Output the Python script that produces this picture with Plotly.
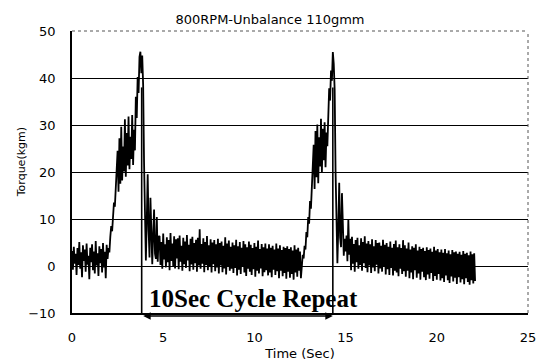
import numpy as np
import plotly.graph_objects as go

dt = 0.05  # sampling interval (s)

pre_noise = [3.2, -0.8, 4.1, 0.5, 2.6, -1.9, 3.8, 0.2, 5.1, -0.6, 2.9, -2.4, 4.4, 1.1, 3.5, -1.2,
             4.8, 0.3, 2.2, -2.8, 3.9, 0.8, 4.6, -0.9, 3.1, -1.6, 5.3, 0.1, 2.7, -2.1, 4.2, 0.6,
             3.6, -1.4, 4.9, -0.3, 3.0, -2.6, 4.5]
rise1 = [1.5, 3.8, 2.9, 6.2, 8.5, 7.4, 11.8, 13.5, 12.6, 17.2, 19.5]
teeth1 = [24.5, 15.8, 27.2, 17.5, 29.6, 18.2, 25.4, 20.1, 31.2, 19.0, 28.3, 21.4, 31.8, 20.6,
          27.5, 22.8, 32.1, 21.5, 29.0, 24.6]
peak1 = [36.0, 31.5, 40.2, 36.8, 44.5, 45.6, 41.0, 44.8, 38.5]
drop1 = [22.0, 6.5, 1.2, 9.8, 19.5, 7.6, 1.8, 14.5, 5.2, 0.4, 6.8, 12.0, 2.6, 1.5, 10.4, 0.9, 6.2]
mid_noise = [6.4, 0.2, 5.1, -0.6, 6.9, 1.4, 4.6, -0.3, 6.1, 0.8, 5.5, -0.9, 7.0, 1.1, 4.8, 0.0, 6.3, -0.5, 5.7, 1.6,
             5.9, -0.7, 6.5, 0.9, 4.3, -1.0, 6.0, 0.4, 5.2, -0.4, 6.6, 1.2, 4.5, -1.1, 5.8, 0.3, 6.2, -0.8, 4.9, 0.6,
             5.6, -1.2, 6.0, 0.1, 7.8, -0.6, 4.7, 0.5, 5.9, -1.3, 5.1, 0.2, 6.4, -0.9, 4.4, -0.2, 5.7, -1.4, 5.0, 0.4,
             5.5, -1.1, 4.6, -0.3, 5.8, -1.6, 4.9, 0.1, 5.2, -1.3, 4.3, -0.5, 6.1, -1.8, 4.8, -0.2, 5.4, -1.0, 4.1, -0.6,
             5.0, -1.5, 4.4, -0.4, 5.6, -2.0, 4.2, -0.8, 5.1, -1.7, 3.9, -0.1, 5.3, -1.4, 4.6, -2.1, 4.0, -0.6, 5.2, -1.2,
             4.5, -1.9, 3.8, -0.7, 4.9, -2.3, 4.1, -1.0, 5.4, -1.6, 3.6, -0.5, 4.7, -2.2, 4.0, -1.3, 4.8, -0.9, 3.7, -2.0,
             4.6, -1.4, 3.9, -2.4, 4.3, -0.8, 3.5, -1.9, 4.8, -1.1, 3.7, -2.6, 4.4, -1.0, 3.4, -2.2, 4.1, -1.5, 3.8, -2.7,
             4.2, -1.2, 3.6, -2.5, 4.0, -1.7, 3.3, -2.9, 4.4, -1.4, 3.5, -2.3, 3.9, -1.0, 3.1, -2.6]
rise2 = [0.8, 2.4, 1.6, 4.3, 3.5, 7.2, 6.1, 10.4, 9.0, 13.8, 12.2, 17.5, 19.0]
teeth2 = [25.8, 16.4, 28.7, 18.9, 30.1, 17.6, 27.4, 21.2, 31.3, 19.8, 29.2, 22.5, 30.6, 21.0, 28.4, 25.5]
peak2 = [33.0, 37.8, 35.2, 41.6, 39.4, 45.5, 43.0, 37.5]
drop2 = [20.0, 4.5, 0.6, 8.2, 17.7, 6.1, 4.0, 15.5, 7.0, 2.2, 5.8, 3.1, 6.5, 1.0, 9.8, 2.4]
end_noise = [5.8, -0.9, 6.2, 0.5, 4.7, -1.2, 5.5, 0.8, 6.0, -0.6, 4.4, 0.2, 5.9, -1.0, 5.1, 0.6, 6.3, -0.4, 4.8, -1.3,
             5.3, 0.1, 4.6, -1.5, 5.7, -0.3, 4.2, -1.1, 5.5, 0.3, 4.9, -1.6, 5.0, -0.5, 4.3, -1.2, 5.6, -0.2, 4.5, -1.8,
             4.9, -0.7, 4.1, -1.9, 5.2, -0.4, 3.9, -2.0, 4.7, -1.0, 5.4, -1.4, 4.0, -2.2, 4.6, -0.6, 3.8, -1.7, 5.5, -1.1,
             4.4, -2.3, 3.7, -1.0, 5.0, -2.6, 3.5, -1.4, 4.2, -2.8, 3.9, -0.9, 4.6, -2.5, 3.3, -1.6, 4.1, -2.9, 3.6, -1.2,
             3.9, -2.4, 3.2, -3.0, 4.0, -1.8, 3.4, -2.7, 3.7, -1.5, 3.0, -3.2, 4.1, -2.1, 3.3, -2.9, 3.6, -1.7, 2.9, -3.1,
             3.5, -2.6, 2.8, -3.4, 3.6, -2.0, 2.7, -3.0, 3.3, -3.6, 2.5, -2.2, 3.4, -3.3, 2.9, -2.5, 3.1, -3.8, 2.6, -2.4,
             3.0, -3.5, 2.4, -2.8, 3.2, -3.9, 2.6, -2.6, 2.8, -3.4, 2.3, -4.0, 3.1, -3.0, 2.5, -3.7, 2.7, -3.2]

cycle_marks = [3.82, 14.3]   # s, cycle markers
x_ticks = [0, 5, 10, 15, 20, 25]
y_ticks = [-10, 0, 10, 20, 30, 40, 50]

torque = np.array(pre_noise + rise1 + teeth1 + peak1 + drop1 + mid_noise
                  + rise2 + teeth2 + peak2 + drop2 + end_noise)
time = np.arange(len(torque)) * dt

fig = go.Figure()
fig.add_trace(go.Scatter(x=time, y=torque, mode="lines",
                         line=dict(color="black", width=1.8), showlegend=False))

shapes = []
for xm in cycle_marks:
    shapes.append(dict(type="line", xref="x", yref="y", x0=xm, x1=xm, y0=-10, y1=38,
                       line=dict(color="black", width=1.6)))
shapes.append(dict(type="line", xref="paper", yref="paper", x0=0, x1=1, y0=1, y1=1,
                   line=dict(color="#555", width=1, dash="dot")))
shapes.append(dict(type="line", xref="paper", yref="paper", x0=1, x1=1, y0=0, y1=1,
                   line=dict(color="#555", width=1, dash="dot")))

annotations = [
    dict(x=9.95, y=-6.9, xref="x", yref="y", text="10Sec Cycle Repeat", showarrow=False,
         font=dict(family="Liberation Serif", size=25, color="black", weight="bold")),
    dict(x=cycle_marks[1], y=-0.011, xref="x", yref="paper", ax=cycle_marks[0], ay=0,
         axref="x", ayref="pixel", text="", showarrow=True, arrowhead=2, arrowside="end+start",
         arrowsize=1, arrowwidth=1.5, arrowcolor="black"),
    dict(x=-0.11, y=0.534, xref="paper", yref="paper", text="Torque(kgm)", showarrow=False,
         textangle=-90, xanchor="center", yanchor="middle",
         font=dict(family="DejaVu Sans", size=11, color="black")),
]

fig.update_layout(
    width=540, height=361,
    margin=dict(l=72, r=12, t=31, b=48),
    paper_bgcolor="white", plot_bgcolor="white",
    font=dict(family="DejaVu Sans", color="black", size=13),
    title=dict(text="800RPM-Unbalance 110gmm", x=0.5, xref="container", xanchor="center",
               y=1 - 19 / 361, yref="container", yanchor="middle",
               font=dict(family="DejaVu Sans", size=13, color="black")),
    xaxis=dict(range=[0, 25], tickvals=x_ticks, showgrid=False, zeroline=False,
               showline=True, linecolor="black", linewidth=1.5, automargin=False,
               ticks="outside", ticklen=12, tickcolor="rgba(0,0,0,0)",
               tickfont=dict(size=13),
               title=dict(text="Time (Sec)", font=dict(size=13))),
    yaxis=dict(range=[-10, 50], tickvals=y_ticks, showgrid=True, gridcolor="black", gridwidth=1.2,
               zeroline=False, showline=True, linecolor="black", linewidth=1.5, automargin=False,
               ticks="outside", ticklen=12, tickcolor="rgba(0,0,0,0)",
               tickfont=dict(size=13)),
    shapes=shapes, annotations=annotations,
)

fig.write_html("out.html")
